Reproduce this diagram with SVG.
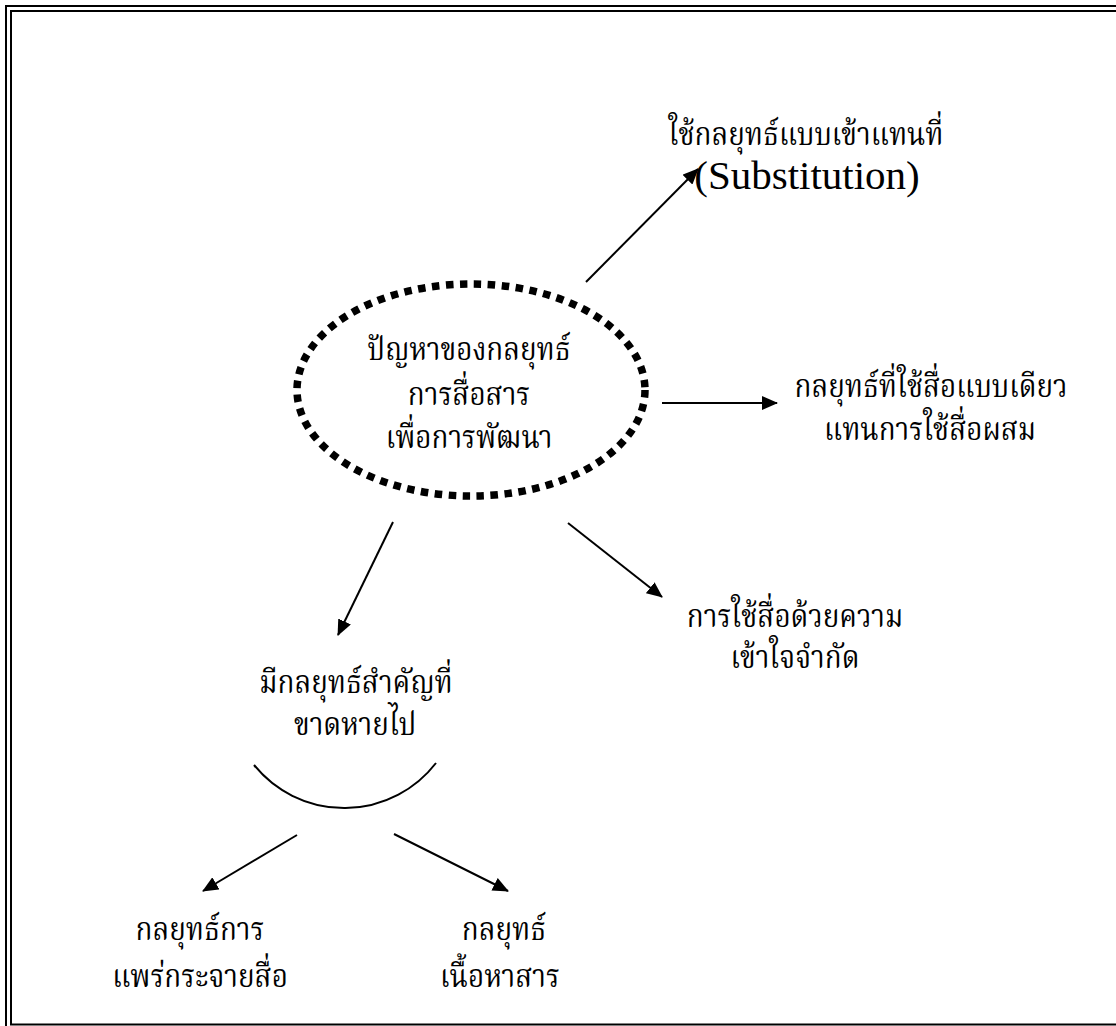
<svg xmlns="http://www.w3.org/2000/svg" width="1116" height="1026" viewBox="0 0 1116 1026">
  <style>
    .frame { fill: none; stroke: #000; stroke-width: 2; }
    .th { font-family: "Noto Serif Thai", "Noto Sans Thai", "Liberation Serif", serif; font-size: 32px; fill: #000; text-anchor: middle; }
    .en { font-family: "Liberation Serif", "Times New Roman", serif; font-size: 41px; fill: #000; text-anchor: middle; }
    .edge { fill: none; stroke: #000; stroke-width: 2; }
  </style>
  <defs>
    <marker id="arrow" viewBox="0 0 16 14" refX="15" refY="7" markerWidth="16" markerHeight="14" markerUnits="userSpaceOnUse" orient="auto">
      <path d="M0,0 L16,7 L0,14 Z" fill="#000"/>
    </marker>
  </defs>

  <rect width="1116" height="1026" fill="#fff"/>

  <!-- double page frame (right and bottom of the outer line run off the page) -->
  <rect class="frame" x="6" y="6" width="1130" height="1040"/>
  <rect class="frame" x="11" y="11" width="1130" height="1013.5"/>

  <!-- central topic; Thai lines are narrowed horizontally to keep a tall, condensed look -->
  <g id="core">
    <ellipse cx="471" cy="390" rx="174" ry="106" fill="none" stroke="#000" stroke-width="7.5" stroke-dasharray="7.5 6.5"/>
    <text class="th" transform="translate(469,360) scale(0.87,1)">ปัญหาของกลยุทธ์</text>
    <text class="th" transform="translate(469,405) scale(0.87,1)">การสื่อสาร</text>
    <text class="th" transform="translate(469,448) scale(0.87,1)">เพื่อการพัฒนา</text>
  </g>

  <g id="substitution">
    <text class="th" transform="translate(806,145) scale(0.87,1)">ใช้กลยุทธ์แบบเข้าแทนที่</text>
    <text class="en" x="807" y="189">(Substitution)</text>
  </g>

  <g id="single-media">
    <text class="th" transform="translate(931,397) scale(0.87,1)">กลยุทธ์ที่ใช้สื่อแบบเดียว</text>
    <text class="th" transform="translate(930,440) scale(0.87,1)">แทนการใช้สื่อผสม</text>
  </g>

  <g id="limited-understanding">
    <text class="th" transform="translate(795,627) scale(0.87,1)">การใช้สื่อด้วยความ</text>
    <text class="th" transform="translate(795,668) scale(0.87,1)">เข้าใจจำกัด</text>
  </g>

  <g id="missing-strategy">
    <text class="th" transform="translate(356,693) scale(0.87,1)">มีกลยุทธ์สำคัญที่</text>
    <text class="th" transform="translate(355,735) scale(0.87,1)">ขาดหายไป</text>
    <path class="edge" d="M254,765 A116,116 0 0 0 436,763"/>
  </g>

  <g id="diffusion">
    <text class="th" transform="translate(200,940) scale(0.87,1)">กลยุทธ์การ</text>
    <text class="th" transform="translate(200,987) scale(0.87,1)">แพร่กระจายสื่อ</text>
  </g>

  <g id="content">
    <text class="th" transform="translate(504,940) scale(0.87,1)">กลยุทธ์</text>
    <text class="th" transform="translate(500,987) scale(0.87,1)">เนื้อหาสาร</text>
  </g>

  <g id="connectors">
    <line class="edge" x1="586" y1="282" x2="698" y2="169" marker-end="url(#arrow)"/>
    <line class="edge" x1="662" y1="403" x2="777" y2="403" marker-end="url(#arrow)"/>
    <line class="edge" x1="568" y1="523" x2="662" y2="597" marker-end="url(#arrow)"/>
    <line class="edge" x1="393" y1="522" x2="338" y2="635" marker-end="url(#arrow)"/>
    <line class="edge" x1="297" y1="835" x2="203" y2="891" marker-end="url(#arrow)"/>
    <line class="edge" x1="394" y1="834" x2="508" y2="891" marker-end="url(#arrow)"/>
  </g>
</svg>
